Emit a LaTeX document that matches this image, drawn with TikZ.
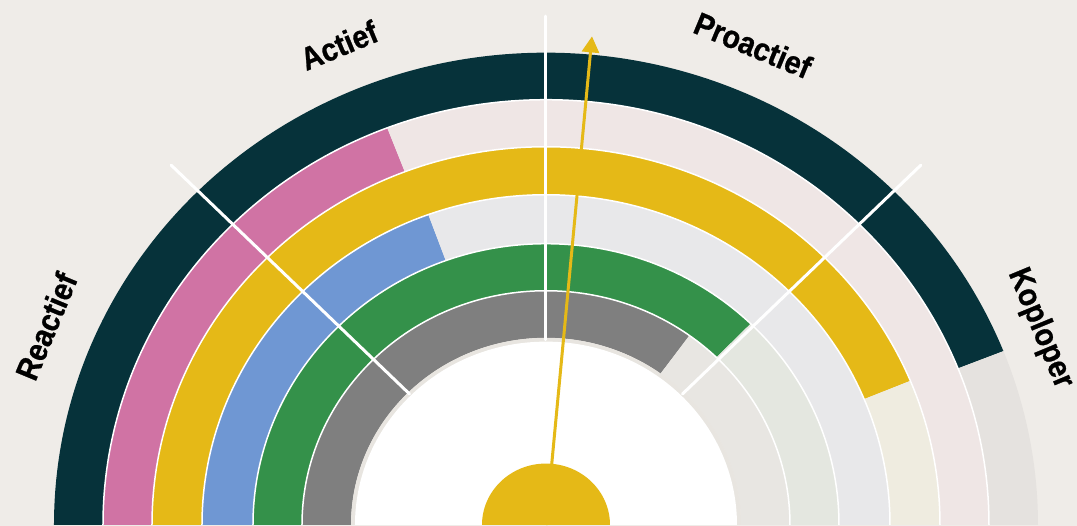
\documentclass[tikz,border=0pt]{standalone}
\usepackage{fontspec}
\newfontfamily\labelfont[FakeStretch=0.9, FakeBold=0.8]{Liberation Sans}
\usepackage{tikz}
\usetikzlibrary{calc}
\usetikzlibrary{positioning}
\usetikzlibrary{arrows.meta}
\definecolor{paper}{HTML}{EFECE8}
\definecolor{innerrim}{HTML}{E8E5E0}
\definecolor{tealfull}{HTML}{06323A}
\definecolor{tealtint}{HTML}{E5E2DF}
\definecolor{pinkfull}{HTML}{D073A4}
\definecolor{pinktint}{HTML}{EFE6E5}
\definecolor{goldfull}{HTML}{E5B917}
\definecolor{goldtint}{HTML}{EFECE0}
\definecolor{bluefull}{HTML}{6F97D3}
\definecolor{bluetint}{HTML}{E8E8EA}
\definecolor{greenfull}{HTML}{34914A}
\definecolor{greentint}{HTML}{E4E7E0}
\definecolor{greyfull}{HTML}{7F7F7F}
\definecolor{greytint}{HTML}{E8E6E2}
\tikzstyle{gapline} = [white, line width=1.5pt]
\tikzstyle{divider} = [white, line width=3pt, line cap=round]
\tikzstyle{ringlabel} = [font=\labelfont\bfseries\fontsize{32}{33}\selectfont, inner sep=0pt]
\tikzstyle{pointer} = [goldfull, line width=3pt, -{Triangle[width=17pt,length=16pt]}]

\begin{document}
\begin{tikzpicture}[x=1pt, y=1pt]
    \fill[paper] (-546,-1) rectangle (531,525);
    \useasboundingbox (-546,-1) rectangle (531,525);

    \begin{scope}[yscale=0.96]
    \fill[tealfull] (180:492) arc[start angle=180, end angle=21.6, radius=492] -- (21.6:443) arc[start angle=21.6, end angle=180, radius=443] -- cycle;
    \fill[tealtint] (21.6:492) arc[start angle=21.6, end angle=0, radius=492] -- (0:443) arc[start angle=0, end angle=21.6, radius=443] -- cycle;

    \fill[pinkfull] (180:443) arc[start angle=180, end angle=111, radius=443] -- (111:394) arc[start angle=111, end angle=180, radius=394] -- cycle;
    \fill[pinktint] (111:443) arc[start angle=111, end angle=0, radius=443] -- (0:394) arc[start angle=0, end angle=111, radius=394] -- cycle;

    \fill[goldfull] (180:394) arc[start angle=180, end angle=22.4, radius=394] -- (22.4:344) arc[start angle=22.4, end angle=180, radius=344] -- cycle;
    \fill[goldtint] (22.4:394) arc[start angle=22.4, end angle=0, radius=394] -- (0:344) arc[start angle=0, end angle=22.4, radius=344] -- cycle;

    \fill[bluefull] (180:344) arc[start angle=180, end angle=110, radius=344] -- (110:293) arc[start angle=110, end angle=180, radius=293] -- cycle;
    \fill[bluetint] (110:344) arc[start angle=110, end angle=0, radius=344] -- (0:293) arc[start angle=0, end angle=110, radius=293] -- cycle;

    \fill[greenfull] (180:293) arc[start angle=180, end angle=45.7, radius=293] -- (45.7:244) arc[start angle=45.7, end angle=180, radius=244] -- cycle;
    \fill[greentint] (45.7:293) arc[start angle=45.7, end angle=0, radius=293] -- (0:244) arc[start angle=0, end angle=45.7, radius=244] -- cycle;

    \fill[greyfull] (180:244) arc[start angle=180, end angle=54, radius=244] -- (54:195) arc[start angle=54, end angle=180, radius=195] -- cycle;
    \fill[greytint] (54:244) arc[start angle=54, end angle=0, radius=244] -- (0:195) arc[start angle=0, end angle=54, radius=195] -- cycle;

    \draw[gapline] (0:443) arc[start angle=0, end angle=180, radius=443];
    \draw[gapline] (0:394) arc[start angle=0, end angle=180, radius=394];
    \draw[gapline] (0:344) arc[start angle=0, end angle=180, radius=344];
    \draw[gapline] (0:293) arc[start angle=0, end angle=180, radius=293];
    \draw[gapline] (0:244) arc[start angle=0, end angle=180, radius=244];

    \fill[innerrim] (0:195) arc[start angle=0, end angle=180, radius=195] -- cycle;
    \fill[white] (0:191) arc[start angle=0, end angle=180, radius=191] -- cycle;

    \draw[divider] (135:193) -- (135:530);
    \draw[divider] (90:193) -- (90:530);
    \draw[divider] (45:193) -- (45:530);

    \node[ringlabel, rotate=67.5] (reactief) at (157.5:541) {Reactief};
    \node[ringlabel, rotate=22.5] (actief) at (112.5:541) {Actief};
    \node[ringlabel, rotate=-22.5] (proactief) at (67.5:541) {Proactief};
    \node[ringlabel, rotate=-67.5] (koploper) at (22.5:535) {Koploper};

    \coordinate (hub) at (0,0);
    \coordinate (tip) at (46,509);
    \draw[pointer] (hub) -- (tip);
    \fill[goldfull] (0:64) arc[start angle=0, end angle=180, radius=64] -- cycle;
    \end{scope}
\end{tikzpicture}
\end{document}
